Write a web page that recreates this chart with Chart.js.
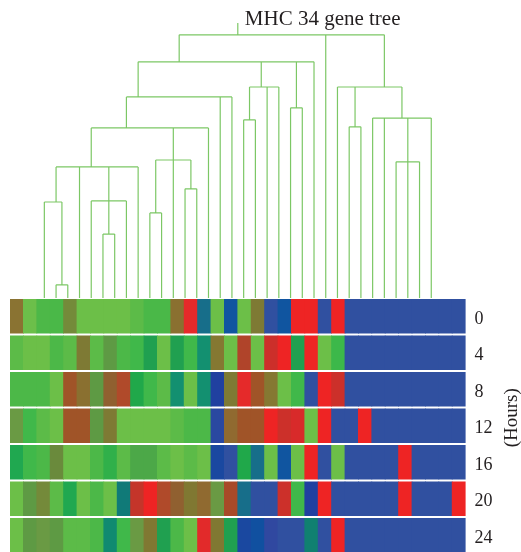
<!DOCTYPE html>
<html lang="en">
<head>
<meta charset="UTF-8">
<title>MHC 34 gene tree</title>
<script src="https://cdn.jsdelivr.net/npm/chart.js"></script>
<style>
  html, body { margin: 0; padding: 0; background: #ffffff; }
  #wrap { width: 521px; height: 552px; }
</style>
</head>
<body>
<div id="wrap"><canvas id="heat" width="521" height="552"></canvas></div>
<script>
// 34 MHC genes, in tree order (left to right)
const genes = ['g1','g2','g3','g4','g5','g6','g7','g8','g9','g10','g11','g12','g13','g14','g15','g16','g17',
               'g18','g19','g20','g21','g22','g23','g24','g25','g26','g27','g28','g29','g30','g31','g32','g33','g34'];
const hours = ['0', '4', '8', '12', '16', '20', '24'];
const treeTitle = 'MHC 34 gene tree';
const hoursTitle = '(Hours)';

// expression colour of each gene at each time point (green = low, red = high, blue = off)
const h0  = ['#8a7332','#6cbf4a','#4db848','#4ab848','#748a3a','#6cbf48','#6cbf48','#6cbf48','#6cbf48','#5cbb48','#4ab848','#4ab848','#8a7030','#e52a2a','#176e8a','#6cbf48','#1055a0',
             '#6cbf48','#7e7a34','#3050a0','#1055a0','#ee2424','#ee2424','#3050a0','#ee2424','#3050a0','#3050a0','#3050a0','#3050a0','#3050a0','#3050a0','#3050a0','#3050a0','#3050a0'];
const h4  = ['#5cbb48','#6cbf48','#6cbf48','#4cb848','#5cbb48','#7e7a34','#5cbb48','#5e9a44','#4cb848','#40b84a','#20a050','#6cbf48','#20a050','#40b84a','#139070','#857832','#6cbf48',
             '#b0442a','#6cbf48','#cc2f2a','#ee2424','#20a050','#ee2424','#6cbf48','#3cb84a','#3050a0','#3050a0','#3050a0','#3050a0','#3050a0','#3050a0','#3050a0','#3050a0','#3050a0'];
const h8  = ['#4cb848','#4cb848','#4cb848','#6cbf48','#a05428','#8a7030','#5e9a44','#906030','#b04a2a','#20a84a','#40b84a','#5cbb48','#139070','#6cbf48','#139070','#2040a0','#7e7a34',
             '#e52a2a','#a05428','#857832','#6cbf48','#40b84a','#3050a0','#ee2424','#cc302a','#3050a0','#3050a0','#3050a0','#3050a0','#3050a0','#3050a0','#3050a0','#3050a0','#3050a0'];
const h12 = ['#6a9a44','#40b84a','#5cbb48','#6cbf48','#a05428','#a05428','#5e9a44','#7e7a34','#6cbf48','#6cbf48','#6cbf48','#6cbf48','#5cbb48','#4cb848','#4cb848','#2a48a0','#906a30',
             '#a05428','#a05428','#ee2424','#cc302a','#d82a2a','#6cbf48','#ee2424','#3050a0','#3050a0','#ee2424','#3050a0','#3050a0','#3050a0','#3050a0','#3050a0','#3050a0','#3050a0'];
const h16 = ['#20a850','#40b84a','#4cb848','#6a8a3c','#6cbf48','#6cbf48','#4cb848','#30b04a','#5cbb48','#4ca848','#4ca848','#5cbb48','#6cbf48','#5cbb48','#6cbf48','#1a48a0','#3050a0',
             '#20a84a','#176e8a','#6cbf48','#1055a0','#6cbf48','#ee2424','#3050a0','#6cbf48','#3050a0','#3050a0','#3050a0','#3050a0','#ee2424','#3050a0','#3050a0','#3050a0','#3050a0'];
const h20 = ['#6cbf48','#5e9a44','#748a3a','#5cbb48','#20a850','#6cbf48','#4cb848','#6cbf48','#107a78','#c4352a','#ee2424','#b04a2a','#906030','#807832','#906a30','#6a9a44','#a84a28',
             '#176e8a','#3050a0','#3050a0','#cc302a','#40b84a','#2040a0','#ee2424','#3050a0','#3050a0','#3050a0','#3050a0','#3050a0','#ee2424','#3050a0','#3050a0','#3050a0','#ee2424'];
const h24 = ['#6cbf48','#5e9a44','#6a9a44','#5e9a44','#5cbb48','#5cbb48','#4cb848','#108a70','#40b84a','#6a9a44','#807832','#20a050','#4cb848','#6cbf48','#e22a2a','#807832','#20a050',
             '#1a48a0','#1050a0','#3048a0','#3050a0','#3050a0','#108070','#3050a0','#ee2424','#3050a0','#3050a0','#3050a0','#3050a0','#3050a0','#3050a0','#3050a0','#3050a0','#3050a0'];
const hourRows = [h0, h4, h8, h12, h16, h20, h24];

// gene tree: each merge joins its children (genes 0-33, merges 34+) at a distance
const treeChildren = [
  [1, 2], [0, 34], [5, 6], [4, 36, 7], [35, 3, 37, 8],
  [9, 10], [12, 13], [39, 11, 40], [38, 41, 14], [42, 15, 16],
  [17, 18], [44, 19, 20], [21, 22], [43, 45, 46, 23],
  [26, 27], [30, 31, 32], [28, 29, 49, 33], [25, 48, 50],
  [47, 24, 51]
];
const treeHeights = [0.36, 2.63, 1.75, 2.66, 3.59, 2.33, 2.99, 3.78, 4.66, 5.51,
                     4.88, 5.78, 5.21, 6.47, 4.69, 3.73, 4.93, 5.78, 7.21];
const rootTop = 7.534;

const cellGap = 0.041;

// leaf spans and node positions
const first = [], last = [], nodeX = [], nodeY = [];
genes.forEach((g, i) => { first[i] = i; last[i] = i; nodeX[i] = i; nodeY[i] = 0; });
treeChildren.forEach((kids, k) => {
  const id = genes.length + k;
  first[id] = Math.min(...kids.map(c => first[c]));
  last[id] = Math.max(...kids.map(c => last[c]));
  nodeX[id] = (first[id] + last[id]) / 2;
  nodeY[id] = treeHeights[k];
});
const rootId = genes.length + treeChildren.length - 1;

const treePoints = [];
treeChildren.forEach((kids, k) => {
  const h = nodeY[genes.length + k];
  const xs = kids.map(c => nodeX[c]);
  treePoints.push({x: Math.min(...xs), y: h}, {x: Math.max(...xs), y: h}, {x: xs[0], y: null});
  kids.forEach(c => {
    treePoints.push({x: nodeX[c], y: nodeY[c]}, {x: nodeX[c], y: h}, {x: nodeX[c], y: null});
  });
});
treePoints.push({x: nodeX[rootId], y: nodeY[rootId]}, {x: nodeX[rootId], y: rootTop});

const datasets = hourRows.map((colors, r) => ({
  type: 'bar',
  label: hours[r],
  data: genes.map(() => [-r - 1 + cellGap, -r - cellGap]),
  backgroundColor: colors,
  borderColor: colors,
  borderWidth: 0,
  xAxisID: 'x',
  yAxisID: 'y'
}));
datasets.push({
  type: 'line',
  label: 'tree',
  data: treePoints,
  borderColor: '#7cc765',
  borderWidth: 1.2,
  pointRadius: 0,
  tension: 0,
  spanGaps: false,
  xAxisID: 'xTree',
  yAxisID: 'y'
});

const textPlugin = {
  id: 'treeText',
  afterDraw(chart) {
    const {ctx, chartArea, scales} = chart;
    const rx = scales.xTree.getPixelForValue(nodeX[rootId]);
    ctx.save();
    ctx.fillStyle = '#231f20';
    ctx.font = '21px "Liberation Serif"';
    ctx.textBaseline = 'alphabetic';
    ctx.textAlign = 'left';
    ctx.fillText(treeTitle, rx + 7, chartArea.top + 2);
    const yMid = (scales.y.getPixelForValue(0) + scales.y.getPixelForValue(-hours.length)) / 2 - 8;
    ctx.translate(chart.width - 9, yMid);
    ctx.rotate(-Math.PI / 2);
    ctx.textAlign = 'center';
    ctx.textBaseline = 'middle';
    ctx.font = '19px "Liberation Serif"';
    ctx.fillText(hoursTitle, 0, 0);
    ctx.restore();
  }
};

new Chart(document.getElementById('heat'), {
  type: 'bar',
  data: { labels: genes, datasets: datasets },
  plugins: [textPlugin],
  options: {
    responsive: false,
    animation: false,
    layout: { padding: { left: 10, top: 23, right: 0, bottom: 0 } },
    datasets: {
      bar: { barPercentage: 1, categoryPercentage: 1, grouped: false, inflateAmount: 0.4 }
    },
    plugins: { legend: { display: false }, tooltip: { enabled: false } },
    scales: {
      x: { type: 'category', display: false, stacked: true, offset: true },
      xTree: { type: 'linear', display: false, min: -0.5, max: 33.5 },
      y: {
        type: 'linear',
        position: 'right',
        min: -6.959,
        max: rootTop,
        stacked: false,
        grid: { display: false, drawTicks: false },
        border: { display: false },
        afterBuildTicks: scale => { scale.ticks = hours.map((h, r) => ({ value: -r - 0.5 })); },
        afterFit: scale => { scale.width = 55.4; scale.paddingTop = 0; scale.paddingBottom = 0; },
        ticks: {
          padding: 9,
          labelOffset: 3,
          autoSkip: false,
          color: '#231f20',
          font: { family: 'Liberation Serif', size: 18 },
          callback: (value, index) => hours[index]
        }
      }
    }
  }
});
</script>
</body>
</html>
